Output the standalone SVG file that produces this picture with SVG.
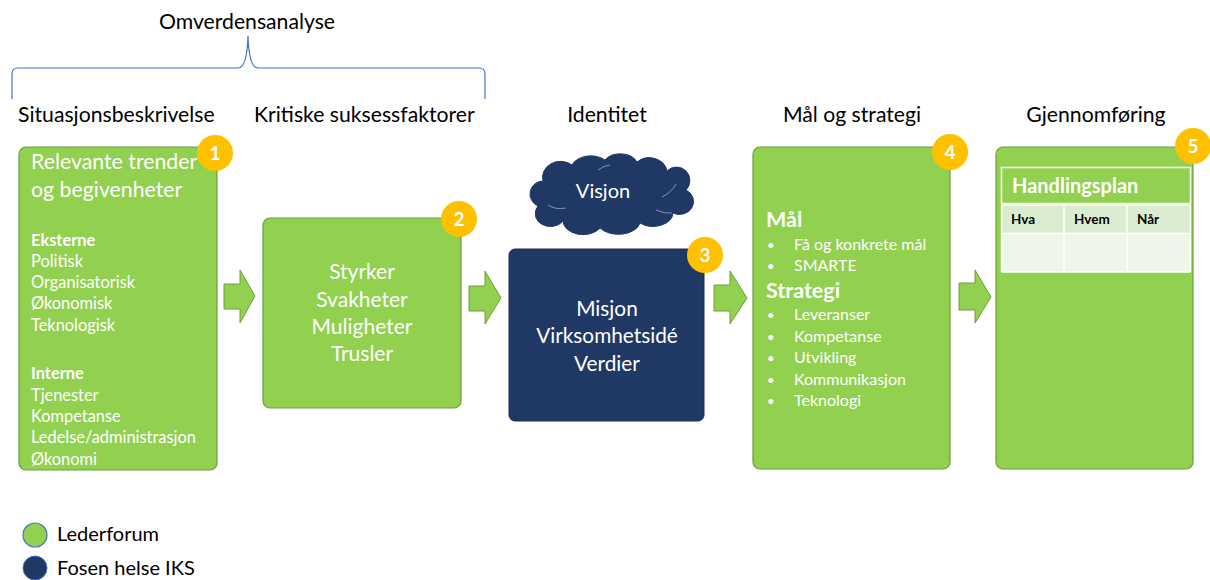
<svg xmlns="http://www.w3.org/2000/svg" width="1210" height="580" viewBox="0 0 1210 580">
<style>
.hdr{font-family:Lato,"Open Sans",sans-serif;font-size:21.2px;fill:#000}
.leg{font-family:Lato,"Open Sans",sans-serif;font-size:20px;fill:#000}
.box{fill:#92D050;stroke:#6E9E3A;stroke-width:1.2}
.navy{fill:#203864;stroke:#1a2d52;stroke-width:1}
.wt{font-family:Lato,"Open Sans",sans-serif;fill:#fff}
.badge{fill:#FFC000}
.bt{font-family:Lato,"Open Sans",sans-serif;font-size:19px;font-weight:bold;fill:#fff;text-anchor:middle}
.arr{fill:#92D050;stroke:#6E9E3A;stroke-width:1}
.s16{font-size:16.4px}
.s165{font-size:16px}
.c{text-anchor:middle}
</style>
<rect width="1210" height="580" fill="#fff"/>
<g id="titles">
<text class="hdr c" x="247" y="29">Omverdensanalyse</text>
<path d="M12 99 V74 Q12 68 18 68 H238 Q247 68 248 36 Q249 68 258 68 H479 Q485 68 485 74 V99" fill="none" stroke="#4472C4" stroke-width="1.2"/>
<text class="hdr" x="18" y="122">Situasjonsbeskrivelse</text>
<text class="hdr" x="254" y="122">Kritiske suksessfaktorer</text>
<text class="hdr c" x="607" y="122">Identitet</text>
<text class="hdr c" x="852" y="122">Mål og strategi</text>
<text class="hdr c" x="1096" y="122">Gjennomføring</text>
</g>
<g id="connectors">
<path class="arr" d="M224 284 H240 V270 L255 296 L240 323 V309 H224 Z"/>
<path class="arr" d="M469 286 H485 V271 L501 298 L485 324 V311 H469 Z"/>
<path class="arr" d="M714 285 H730 V271 L747 298 L730 324 V311 H714 Z"/>
<path class="arr" d="M959 283 H975 V270 L991 297 L975 323 V310 H959 Z"/>
</g>
<g id="node1">
<rect class="box" x="19" y="147" width="198" height="323" rx="7"/>
<text class="wt" x="31" y="169" font-size="21.3">Relevante trender</text>
<text class="wt" x="31" y="197" font-size="21.3">og begivenheter</text>
<g class="wt s16">
<text x="31" y="246" font-weight="bold">Eksterne</text>
<text x="31" y="267">Politisk</text>
<text x="31" y="288">Organisatorisk</text>
<text x="31" y="309">Økonomisk</text>
<text x="31" y="331">Teknologisk</text>
<text x="31" y="379" font-weight="bold">Interne</text>
<text x="31" y="401">Tjenester</text>
<text x="31" y="422">Kompetanse</text>
<text x="31" y="443">Ledelse/administrasjon</text>
<text x="31" y="465">Økonomi</text>
</g>
<circle class="badge" cx="215" cy="153" r="18"/>
<text class="bt" x="215" y="160">1</text>
</g>
<g id="node2">
<rect class="box" x="263" y="218" width="198" height="190" rx="7"/>
<g class="wt c" font-size="21">
<text x="362" y="279">Styrker</text>
<text x="362" y="307">Svakheter</text>
<text x="362" y="334">Muligheter</text>
<text x="362" y="361">Trusler</text>
</g>
<circle class="badge" cx="459" cy="219" r="18"/>
<text class="bt" x="459" y="226">2</text>
</g>
<g id="visjon">
<path fill="#203864" stroke="#203864" d="M538 206 A13 13 0 0 1 543 181 A18 16 0 0 1 572 165 A20 14 0 0 1 605 160 A18 13 0 0 1 637 162 A18 16 0 0 1 667 171 A13 13 0 0 1 686 190 A13 12 0 0 1 673 213 A20 14 0 0 1 640 223 A22 14 0 0 1 600 228 A20 14 0 0 1 563 221 A14 12 0 0 1 538 206 Z"/>
<path d="M548 205 Q555 210 566 208 M662 197 Q672 192 676 184 M656 210 Q665 214 672 213 M598 170 Q603 166 610 165" fill="none" stroke="#8FAADC" stroke-width="0.8"/>
<text class="wt c" x="603" y="198" font-size="20">Visjon</text>
</g>
<g id="node3">
<rect class="navy" x="509" y="249" width="195" height="172" rx="6"/>
<g class="wt c" font-size="20.8">
<text x="607" y="316">Misjon</text>
<text x="607" y="343">Virksomhetsidé</text>
<text x="607" y="371">Verdier</text>
</g>
<circle class="badge" cx="705" cy="255" r="18"/>
<text class="bt" x="705" y="262">3</text>
</g>
<g id="node4">
<rect class="box" x="753" y="147" width="197" height="322" rx="7"/>
<text class="wt" x="766" y="227" font-size="21.5" font-weight="bold">Mål</text>
<text class="wt" x="766" y="298" font-size="21.5" font-weight="bold">Strategi</text>
<g class="wt s165">
<text x="767" y="250" font-size="13">•</text><text x="794" y="250">Få og konkrete mål</text>
<text x="767" y="271" font-size="13">•</text><text x="794" y="271">SMARTE</text>
<text x="767" y="320" font-size="13">•</text><text x="794" y="320">Leveranser</text>
<text x="767" y="342" font-size="13">•</text><text x="794" y="342">Kompetanse</text>
<text x="767" y="363" font-size="13">•</text><text x="794" y="363">Utvikling</text>
<text x="767" y="385" font-size="13">•</text><text x="794" y="385">Kommunikasjon</text>
<text x="767" y="406" font-size="13">•</text><text x="794" y="406">Teknologi</text>
</g>
<circle class="badge" cx="950" cy="152" r="18"/>
<text class="bt" x="950" y="159">4</text>
</g>
<g id="node5">
<rect class="box" x="996" y="147" width="197" height="322" rx="7"/>
<rect x="1001.5" y="167.5" width="189" height="36" fill="#92D050" stroke="#fff" stroke-width="1.5"/>
<text class="wt" x="1012" y="193" font-size="20" font-weight="bold">Handlingsplan</text>
<rect x="1001.5" y="205" width="189" height="28" fill="#DBEDD0"/>
<rect x="1001.5" y="233" width="189" height="39" fill="#EDF6E8"/>
<path d="M1001.5 205 H1190.5 M1001.5 233.5 H1190.5 M1064 205 V272 M1127 205 V272 M1001.5 205 V272 M1190.5 205 V272 M1001.5 272 H1190.5" stroke="#fff" stroke-width="1.5" fill="none"/>
<g font-family="Lato,'Open Sans',sans-serif" font-size="13.5" font-weight="bold" fill="#000">
<text x="1011" y="224">Hva</text>
<text x="1074" y="224">Hvem</text>
<text x="1137" y="224">Når</text>
</g>
<circle class="badge" cx="1193" cy="146" r="18"/>
<text class="bt" x="1193" y="153">5</text>
</g>
<g id="legend">
<circle cx="35" cy="535" r="12" fill="#92D050" stroke="#4472C4" stroke-width="1.2"/>
<text class="leg" x="57" y="541">Lederforum</text>
<circle cx="35" cy="568" r="12" fill="#203864" stroke="#4472C4" stroke-width="1"/>
<text class="leg" x="57" y="575">Fosen helse IKS</text>
</g>
</svg>
